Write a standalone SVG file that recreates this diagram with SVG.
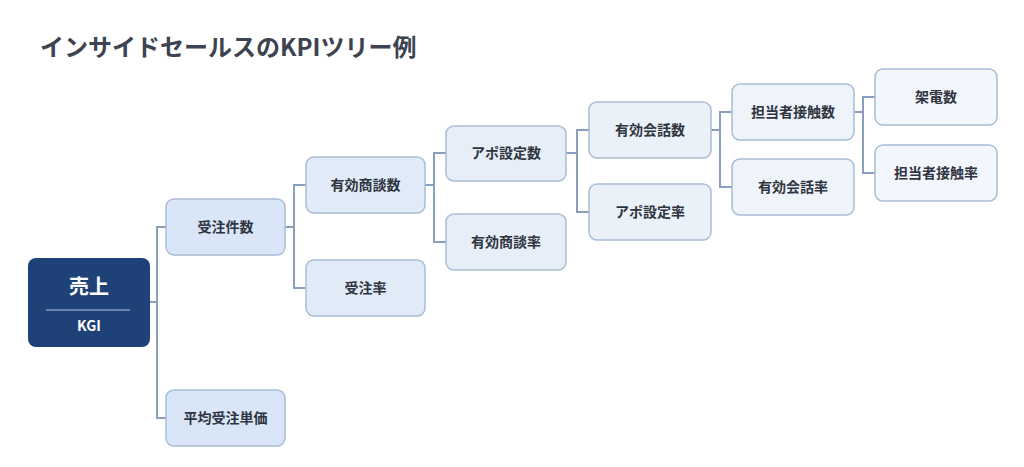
<svg xmlns="http://www.w3.org/2000/svg" width="1024" height="467" viewBox="0 0 1024 467">
<style>
text{font-family:"Noto Sans CJK JP","Noto Sans",sans-serif;font-weight:700;text-anchor:middle}
.n rect{stroke:#a9bcd6;stroke-width:1.5}
.n text{font-size:14px;fill:#2e3440}
.l1 rect{fill:#d9e6f7}.l2 rect{fill:#e1ebf7}.l3 rect{fill:#e6eef8}.l4 rect{fill:#ebf1f9}.l5 rect{fill:#eff3fa}.l6 rect{fill:#f3f6fc}
#conn path{fill:none;stroke:#8a9fbd;stroke-width:2}
</style>
<rect width="1024" height="467" fill="#fff"/>
<text x="40" y="56" style="text-anchor:start;font-size:24px;fill:#3d4350">インサイドセールスのKPIツリー例</text>
<g id="conn">
<path d="M150 302H157M166 227H157V418H166"/>
<path d="M285 227H294M306 185H294V288H306"/>
<path d="M425 185H434M446 153H434V242H446"/>
<path d="M566 153H577M589 130H577V212H589"/>
<path d="M711 130H720M732 112H720V187H732"/>
<path d="M854 112H863M875 97H863V173H875"/>
</g>
<g id="root"><rect x="28" y="258" width="122" height="89" rx="8" fill="#1e4178"/>
<text x="89" y="294" style="font-size:20px;fill:#fff">売上</text>
<line x1="46" y1="310" x2="130" y2="310" stroke="#7f98bd" stroke-width="1.5"/>
<text x="89" y="331" style="font-size:14px;fill:#fff">KGI</text></g>
<g id="n1" class="n l1"><rect x="166" y="199" width="119" height="56" rx="8"/><text x="225.5" y="232">受注件数</text></g>
<g id="n2" class="n l1"><rect x="166" y="390" width="119" height="56" rx="8"/><text x="225.5" y="423">平均受注単価</text></g>
<g id="n3" class="n l2"><rect x="306" y="157" width="119" height="56" rx="8"/><text x="365.5" y="190">有効商談数</text></g>
<g id="n4" class="n l2"><rect x="306" y="260" width="119" height="56" rx="8"/><text x="365.5" y="293">受注率</text></g>
<g id="n5" class="n l3"><rect x="446" y="126" width="120" height="55" rx="8"/><text x="506" y="158">アポ設定数</text></g>
<g id="n6" class="n l3"><rect x="446" y="214" width="120" height="56" rx="8"/><text x="506" y="247">有効商談率</text></g>
<g id="n7" class="n l4"><rect x="589" y="102" width="122" height="56" rx="8"/><text x="650" y="135">有効会話数</text></g>
<g id="n8" class="n l4"><rect x="589" y="184" width="122" height="56" rx="8"/><text x="650" y="217">アポ設定率</text></g>
<g id="n9" class="n l5"><rect x="732" y="84" width="122" height="56" rx="8"/><text x="793" y="117">担当者接触数</text></g>
<g id="n10" class="n l5"><rect x="732" y="159" width="122" height="56" rx="8"/><text x="793" y="192">有効会話率</text></g>
<g id="n11" class="n l6"><rect x="875" y="69" width="122" height="56" rx="8"/><text x="936" y="102">架電数</text></g>
<g id="n12" class="n l6"><rect x="875" y="145" width="122" height="56" rx="8"/><text x="936" y="178">担当者接触率</text></g>
</svg>
